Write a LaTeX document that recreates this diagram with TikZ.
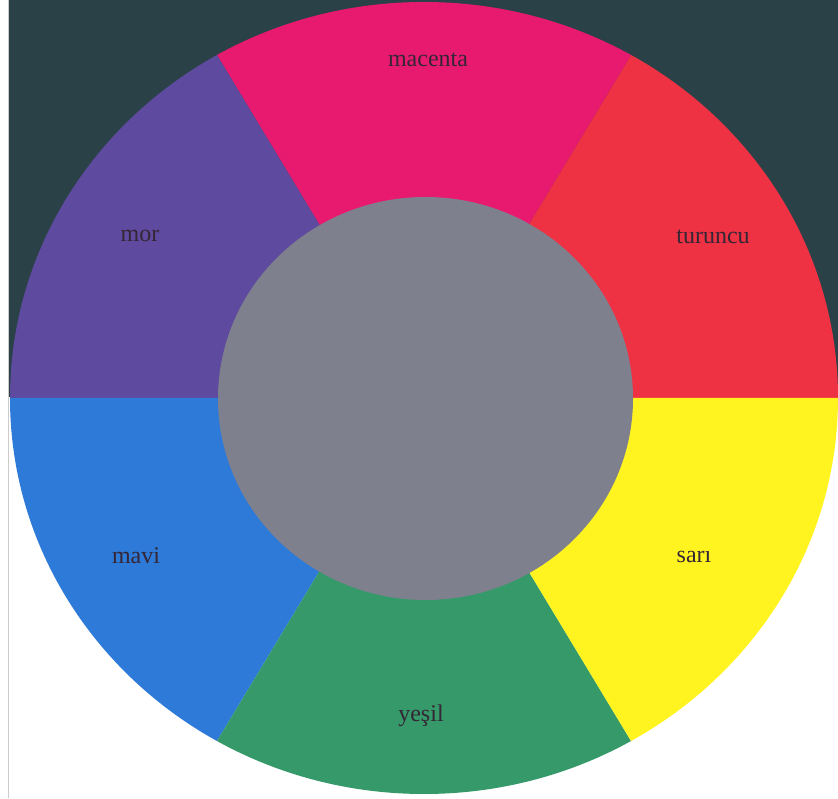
\documentclass[tikz,border=0pt]{standalone}
\usepackage{fontspec}
\setmainfont{Liberation Serif}
\definecolor{bgdark}{RGB}{42,66,71}
\definecolor{cmag}{RGB}{232,26,112}
\definecolor{cred}{RGB}{238,50,68}
\definecolor{cyel}{RGB}{255,244,32}
\definecolor{cgrn}{RGB}{54,153,106}
\definecolor{cblu}{RGB}{46,122,216}
\definecolor{cpur}{RGB}{94,74,158}
\definecolor{cgray}{RGB}{126,128,142}
\definecolor{labcol}{RGB}{52,38,52}
\tikzset{lbl/.style={font=\fontsize{24}{28}\selectfont, text=labcol, inner sep=0pt}}
\begin{document}
\begin{tikzpicture}[x=1pt,y=1pt]
\useasboundingbox (0,0) rectangle (838,798);
\fill[white] (0,0) rectangle (838,798);
\fill[bgdark] (9,401) rectangle (838,798);
\draw[gray!40, line width=1pt] (8.5,0) -- (8.5,798);
\begin{scope}
\clip (424,400) ellipse [x radius=414, y radius=396];
\foreach \a/\c in {0/cred, 60/cmag, 120/cpur, 180/cblu, 240/cgrn, 300/cyel}{
  \fill[\c] (424,400) -- ({424+828*cos(\a)},{400+792*sin(\a)})
     -- ({424+1000*cos(\a+30)},{400+960*sin(\a+30)})
     -- ({424+828*cos(\a+60)},{400+792*sin(\a+60)}) -- cycle;
}
\end{scope}
\fill[cgray] (425.5,399.5) ellipse [x radius=207.5, y radius=201.5];
\node[lbl] (mac) at (428,738) {macenta};
\node[lbl] (tur) at (713,561) {turuncu};
\node[lbl] (sar) at (694,241) {sarı};
\node[lbl] (yes) at (421,82) {yeşil};
\node[lbl] (mav) at (136,242) {mavi};
\node[lbl] (mor) at (140,562) {mor};
\end{tikzpicture}
\end{document}
